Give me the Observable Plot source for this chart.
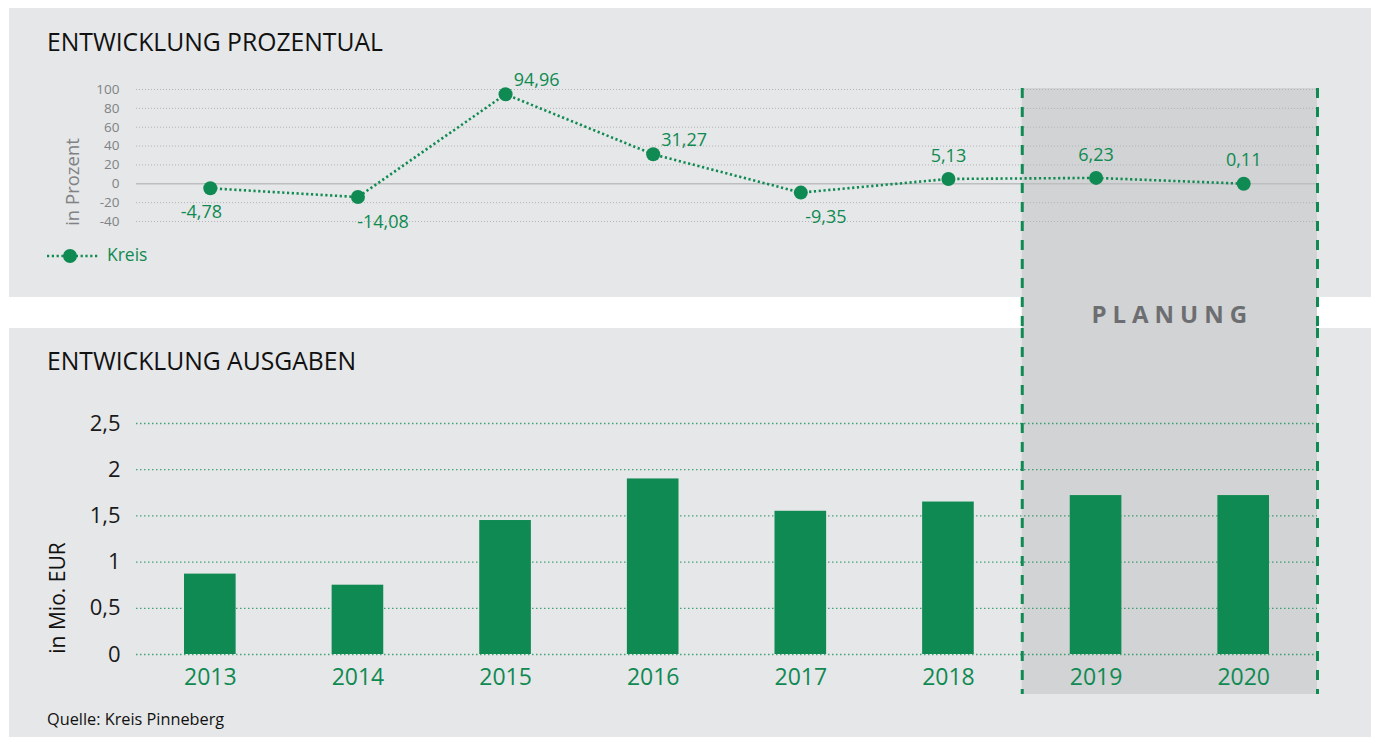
<!DOCTYPE html>
<html>
<head>
<meta charset="utf-8">
<script src="https://cdn.jsdelivr.net/npm/d3@7"></script>
<script src="https://cdn.jsdelivr.net/npm/@observablehq/plot@0.6"></script>
<style>
  body { margin: 0; background: #ffffff; font-family: "Open Sans", sans-serif; }
  #page { position: relative; width: 1376px; height: 737px; overflow: hidden; background: #fff; }
  .panel { position: absolute; background: #e6e7e8; }
  .txt { position: absolute; line-height: 1; white-space: nowrap; }
  .rot { position: absolute; line-height: 1; white-space: nowrap; transform: translate(-50%, -50%) rotate(-90deg); }
  #topPlot, #bottomPlot { position: absolute; left: 0; }
</style>
</head>
<body>
<div id="page">
  <div class="panel" style="left:9px;top:8px;width:1362px;height:289px"></div>
  <div class="panel" style="left:9px;top:328px;width:1362px;height:409px"></div>
  <div id="topPlot" style="top:0px"></div>
  <div id="bottomPlot" style="top:328px"></div>
</div>
<script>
// ---- data ----
const years = [2013, 2014, 2015, 2016, 2017, 2018, 2019, 2020];
const percentChange = [-4.78, -14.08, 94.96, 31.27, -9.35, 5.13, 6.23, 0.11];
const spending = [0.87, 0.75, 1.45, 1.90, 1.55, 1.65, 1.72, 1.72];
const planYears = [2019, 2020];
const pctTicks = [100, 80, 60, 40, 20, 0, -20, -40];
const eurTicks = [0, 0.5, 1, 1.5, 2, 2.5];

const titleTop = "ENTWICKLUNG PROZENTUAL";
const titleBottom = "ENTWICKLUNG AUSGABEN";
const yLabelTop = "in Prozent";
const yLabelBottom = "in Mio. EUR";
const seriesName = "Kreis";
const planLabel = "PLANUNG";
const source = "Quelle: Kreis Pinneberg";

const GREEN = "#0f8a52";
const fmt = d => String(d).replace(".", ",");
const pctData = years.map((year, i) => ({year, value: percentChange[i]}));
const eurData = years.map((year, i) => ({year, value: spending[i]}));
const planSpan = [{x1: d3.min(planYears) - 0.5, x2: d3.max(planYears) + 0.5}];
const xDomain = [d3.min(years) - 0.5, d3.max(years) + 0.5];

const page = document.getElementById("page");
function addText(str, left, baseline, size, color, extra = "") {
  const el = document.createElement("div");
  el.className = "txt";
  el.textContent = str;
  el.style.cssText += `left:${left}px;top:${baseline - 0.888 * size}px;font-size:${size}px;color:${color};${extra}`;
  page.appendChild(el);
  return el;
}
function addRot(str, cx, cy, size, color) {
  const el = document.createElement("div");
  el.className = "rot";
  el.textContent = str;
  el.style.cssText += `left:${cx}px;top:${cy}px;font-size:${size}px;color:${color};`;
  page.appendChild(el);
}

// ---- top chart ----
const topPlot = Plot.plot({
  width: 1376, height: 328,
  marginLeft: 136, marginRight: 59, marginTop: 88, marginBottom: 0,
  style: {background: "transparent", fontFamily: "Open Sans", fontSize: "13.5px", overflow: "visible"},
  x: {domain: xDomain, axis: null},
  y: {domain: [-40, 100], range: [221, 89], axis: null},
  marks: [
    Plot.rect(planSpan, {x1: "x1", x2: "x2", fill: "#d1d3d4"}),
    Plot.ruleY(pctTicks.filter(d => d !== 0), {stroke: "#b1b3b6", strokeWidth: 1, strokeDasharray: "1 2"}),
    Plot.ruleY([0], {stroke: "#bcbec0", strokeWidth: 1.5}),
    Plot.ruleX([planSpan[0].x1, planSpan[0].x2], {stroke: GREEN, strokeWidth: 3, strokeDasharray: "10 9"}),
    Plot.axisY({ticks: pctTicks, tickFormat: d => String(d), tickSize: 0, tickPadding: 17, fill: "#808285", fontSize: 13.5, label: null}),
    Plot.line(pctData, {x: "year", y: "value", stroke: GREEN, strokeWidth: 2.6, strokeDasharray: "2.2 2.6", strokeLinecap: "butt"}),
    Plot.dot(pctData, {x: "year", y: "value", r: 7, fill: GREEN}),
    Plot.text(pctData.filter(d => d.year === 2013), {x: "year", y: "value", text: d => fmt(d.value), dx: -9, dy: 24, fill: GREEN, fontSize: 18}),
    Plot.text(pctData.filter(d => d.year === 2014 || d.year === 2017), {x: "year", y: "value", text: d => fmt(d.value), dx: 25, dy: 25, fill: GREEN, fontSize: 18}),
    Plot.text(pctData.filter(d => d.year === 2015 || d.year === 2016), {x: "year", y: "value", text: d => fmt(d.value), dx: 31, dy: -14, fill: GREEN, fontSize: 18}),
    Plot.text(pctData.filter(d => d.year >= 2018), {x: "year", y: "value", text: d => fmt(d.value), dx: 0, dy: -23, fill: GREEN, fontSize: 18})
  ]
});
document.getElementById("topPlot").appendChild(topPlot);

// ---- bottom chart ----
const bottomPlot = Plot.plot({
  width: 1376, height: 409,
  marginLeft: 136, marginRight: 59, marginTop: 0, marginBottom: 43,
  style: {background: "transparent", fontFamily: "Open Sans", fontSize: "22px", overflow: "visible"},
  x: {domain: xDomain, axis: null},
  y: {domain: [0, 2.5], range: [326, 95], axis: null},
  marks: [
    Plot.rect(planSpan, {x1: "x1", x2: "x2", fill: "#d1d3d4"}),
    Plot.ruleY(eurTicks, {stroke: GREEN, strokeOpacity: 0.75, strokeWidth: 1.3, strokeDasharray: "1.5 2.5"}),
    Plot.ruleX([planSpan[0].x1, planSpan[0].x2], {stroke: GREEN, strokeWidth: 3, strokeDasharray: "10 9"}),
    Plot.axisY({ticks: eurTicks, tickFormat: fmt, tickSize: 0, tickPadding: 16, fill: "#1a1a1a", fontSize: 22, label: null}),
    Plot.rectY(eurData, {x1: d => d.year - 0.5, x2: d => d.year + 0.5, y: "value", insetLeft: 48, insetRight: 48, fill: GREEN}),
    Plot.text(years, {x: d => d, y: () => 0, dy: 23, text: d => String(d), fill: GREEN, fontSize: 23})
  ]
});
document.getElementById("bottomPlot").appendChild(bottomPlot);

// ---- titles, labels, legend ----
addText(titleTop, 47, 52, 24.7, "#111");
addText(titleBottom, 47, 371, 24.7, "#111");
addText(source, 47, 725, 16.3, "#111");
addRot(yLabelTop, 72, 182, 18.5, "#808285");
addRot(yLabelBottom, 57, 598, 21, "#111");

// legend
const leg = document.createElement("div");
leg.style.cssText = "position:absolute;left:47px;top:249px;width:60px;height:14px;";
leg.innerHTML = `<svg width="56" height="14" style="display:block">
  <line x1="0" x2="52" y1="7" y2="7" stroke="${GREEN}" stroke-width="2.6" stroke-dasharray="2.2 2.6"></line>
  <circle cx="23" cy="7" r="7" fill="${GREEN}"></circle></svg>`;
page.appendChild(leg);
addText(seriesName, 107, 262, 17.5, GREEN);

// planning label centred on the planning span
const xs = topPlot.scale("x");
const cx = (xs.apply(planSpan[0].x1) + xs.apply(planSpan[0].x2)) / 2;
const pl = addText(planLabel, 0, 323, 24, "#6d6e71", "font-weight:700;letter-spacing:6px;");
pl.style.left = (cx - pl.offsetWidth / 2 + 3) + "px";
</script>
</body>
</html>
